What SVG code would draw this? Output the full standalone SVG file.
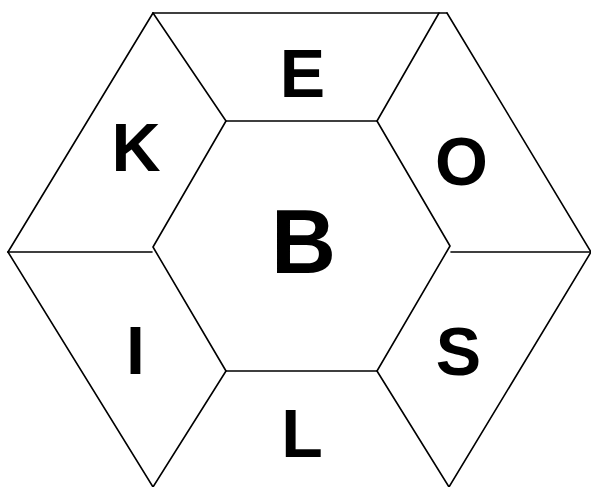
<svg xmlns="http://www.w3.org/2000/svg" width="591" height="487" viewBox="0 0 591 487">
<style>
.ln{stroke:#000;stroke-width:1.6;fill:none;stroke-linecap:round;stroke-linejoin:round}
.lb{font-family:"Liberation Sans",Arial,sans-serif;font-weight:bold;font-size:68px;fill:#000;text-anchor:middle}
</style>
<rect width="591" height="487" fill="#fff"/>
<g id="connectors" class="ln">
<path d="M153,13 L447,13"/>
<path d="M153,13 L8,252"/>
<path d="M447,13 L591,252"/>
<path d="M8,252 L153,487"/>
<path d="M591,252 L449,487"/>
<path d="M226,121 L377,121 L450,246 L377,371 L226,371 L153,247 Z"/>
<path d="M153,13 L226,121"/>
<path d="M439,13 L377,121"/>
<path d="M8,252 L152,252"/>
<path d="M451,252 L591,252"/>
<path d="M226,371 L153,487"/>
<path d="M377,371 L449,487"/>
</g>
<g id="E"><text class="lb" x="302.5" y="97">E</text></g>
<g id="K"><text class="lb" x="136" y="171">K</text></g>
<g id="O"><text class="lb" x="461.5" y="185">O</text></g>
<g id="B"><text class="lb" x="303.5" y="273" style="font-size:90px">B</text></g>
<g id="I"><text class="lb" x="135.5" y="374">I</text></g>
<g id="S"><text class="lb" x="458.5" y="375">S</text></g>
<g id="L"><text class="lb" x="302" y="457">L</text></g>
</svg>
